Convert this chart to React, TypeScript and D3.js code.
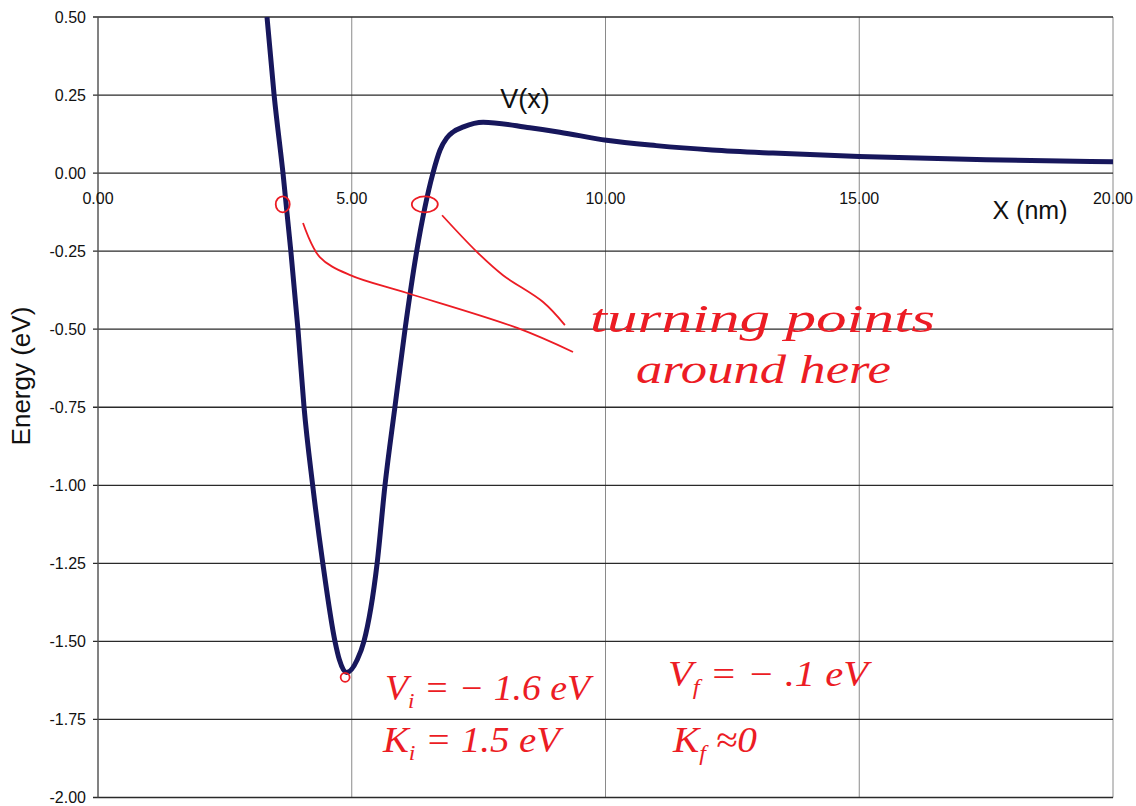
import React from "react";
import * as d3 from "d3";

const xValues = [3.33, 3.47, 3.645, 3.8, 3.94, 4.06, 4.23, 4.43, 4.67, 4.755, 4.9, 5.11, 5.24, 5.5, 5.655, 5.85, 6.05, 6.28, 6.6, 6.74, 6.87, 7.0, 7.2, 7.59, 8.51, 9.1, 10.02, 11.0, 12.1, 13.3, 15.0, 17.5, 20.0];
const energyValues = [0.5, 0.25, 0.0, -0.25, -0.5, -0.75, -1.0, -1.25, -1.5, -1.558, -1.6, -1.558, -1.5, -1.25, -1.0, -0.75, -0.5, -0.25, 0.0, 0.074, 0.112, 0.132, 0.148, 0.163, 0.145, 0.131, 0.105, 0.088, 0.074, 0.064, 0.053, 0.043, 0.036];

const xTicks = [0, 5, 10, 15, 20];
const yTicks = [0.5, 0.25, 0, -0.25, -0.5, -0.75, -1.0, -1.25, -1.5, -1.75, -2.0];

// handwritten annotation marks (data coordinates)
const turningPoints = [
  { x: 3.64, y: -0.1, rx: 7, ry: 8 },
  { x: 6.44, y: -0.1, rx: 13, ry: 8 },
];
const minimumMark = { x: 4.87, y: -1.615 };
const pointerA = [[4.04, -0.16], [4.37, -0.269], [4.97, -0.327], [6.09, -0.384], [8.26, -0.496], [9.36, -0.573]];
const pointerB = [[6.78, -0.135], [7.47, -0.253], [7.98, -0.327], [8.77, -0.413], [9.2, -0.487]];

const W = 1136;
const H = 806;
const left = 98;
const right = 1113;
const top = 17;
const bottom = 797.5;

export default function App() {
  const x = d3.scaleLinear().domain([0, 20]).range([left, right]);
  const y = d3.scaleLinear().domain([-2, 0.5]).range([bottom, top]);

  const line = d3
    .line<number>()
    .x((_, i) => x(xValues[i]))
    .y((d) => y(d))
    .curve(d3.curveMonotoneX);

  const redLine = d3
    .line<number[]>()
    .x((d) => x(d[0]))
    .y((d) => y(d[1]))
    .curve(d3.curveCatmullRom);

  const red = "#ec1c24";
  const font = "'Liberation Sans', Arial, sans-serif";
  const hand = "'Liberation Serif', serif";

  return (
    <svg
      width={W}
      height={H}
      style={{ position: "absolute", left: 0, top: 0, background: "#fff" }}
      fontFamily={font}
    >
      <defs>
        <clipPath id="plot">
          <rect x={left} y={top} width={right - left} height={bottom - top} />
        </clipPath>
      </defs>
      <rect width={W} height={H} fill="#fff" />
      {/* vertical gridlines */}
      {xTicks.map((t) => (
        <line key={"vx" + t} x1={x(t)} x2={x(t)} y1={top} y2={bottom} stroke="#8a8a8a" strokeWidth={1} />
      ))}
      {/* horizontal gridlines */}
      {yTicks.map((t) => (
        <line key={"hy" + t} x1={left - 5} x2={right} y1={y(t)} y2={y(t)} stroke="#2a2a2a" strokeWidth={1.3} />
      ))}
      <line x1={left} x2={left} y1={top} y2={bottom} stroke="#555" strokeWidth={1.2} />
      {/* y tick labels */}
      {yTicks.map((t) => (
        <text key={"ly" + t} x={left - 12} y={y(t)} dy="0.36em" textAnchor="end" fontSize={16} fill="#111">
          {t.toFixed(2)}
        </text>
      ))}
      {/* x tick labels */}
      {xTicks.map((t) => (
        <text key={"lx" + t} x={x(t)} y={y(0) + 31} textAnchor="middle" fontSize={16} fill="#111">
          {t.toFixed(2)}
        </text>
      ))}
      <text x={1030} y={219} textAnchor="middle" fontSize={25} fill="#111">
        X (nm)
      </text>
      <text transform={`translate(30,${y(-0.65)}) rotate(-90)`} textAnchor="middle" fontSize={26} fill="#111">
        Energy (eV)
      </text>
      <text x={525} y={108} textAnchor="middle" fontSize={27} fill="#111">
        V(x)
      </text>
      {/* curve */}
      <path
        d={line(energyValues) || ""}
        fill="none"
        stroke="#17175c"
        strokeWidth={5}
        strokeLinejoin="round"
        clipPath="url(#plot)"
      />
      {/* annotations */}
      {turningPoints.map((p, i) => (
        <ellipse key={"tp" + i} cx={x(p.x)} cy={y(p.y)} rx={p.rx} ry={p.ry} fill="none" stroke={red} strokeWidth={1.8} />
      ))}
      <circle cx={x(minimumMark.x)} cy={y(minimumMark.y)} r={4.5} fill="none" stroke={red} strokeWidth={1.8} />
      <path d={redLine(pointerA) || ""} fill="none" stroke={red} strokeWidth={1.8} />
      <path d={redLine(pointerB) || ""} fill="none" stroke={red} strokeWidth={1.8} />
      <g fill={red} fontFamily={hand} fontStyle="italic">
        <text x={590} y={332} fontSize={40} textLength={345} lengthAdjust="spacingAndGlyphs">
          turning points
        </text>
        <text x={636} y={383} fontSize={40} textLength={255} lengthAdjust="spacingAndGlyphs">
          around here
        </text>
        <text x={385} y={700} fontSize={36} textLength={205} lengthAdjust="spacingAndGlyphs">
          V<tspan fontSize={22} dy={8}>i</tspan>
          <tspan dy={-8}> = − 1.6 eV</tspan>
        </text>
        <text x={383} y={752} fontSize={36} textLength={177} lengthAdjust="spacingAndGlyphs">
          K<tspan fontSize={22} dy={8}>i</tspan>
          <tspan dy={-8}> = 1.5 eV</tspan>
        </text>
        <text x={668} y={686} fontSize={36} textLength={200} lengthAdjust="spacingAndGlyphs">
          V<tspan fontSize={22} dy={8}>f</tspan>
          <tspan dy={-8}> = − .1 eV</tspan>
        </text>
        <text x={673} y={752} fontSize={36} textLength={84} lengthAdjust="spacingAndGlyphs">
          K<tspan fontSize={22} dy={8}>f</tspan>
          <tspan dy={-8}> ≈0</tspan>
        </text>
      </g>
    </svg>
  );
}
